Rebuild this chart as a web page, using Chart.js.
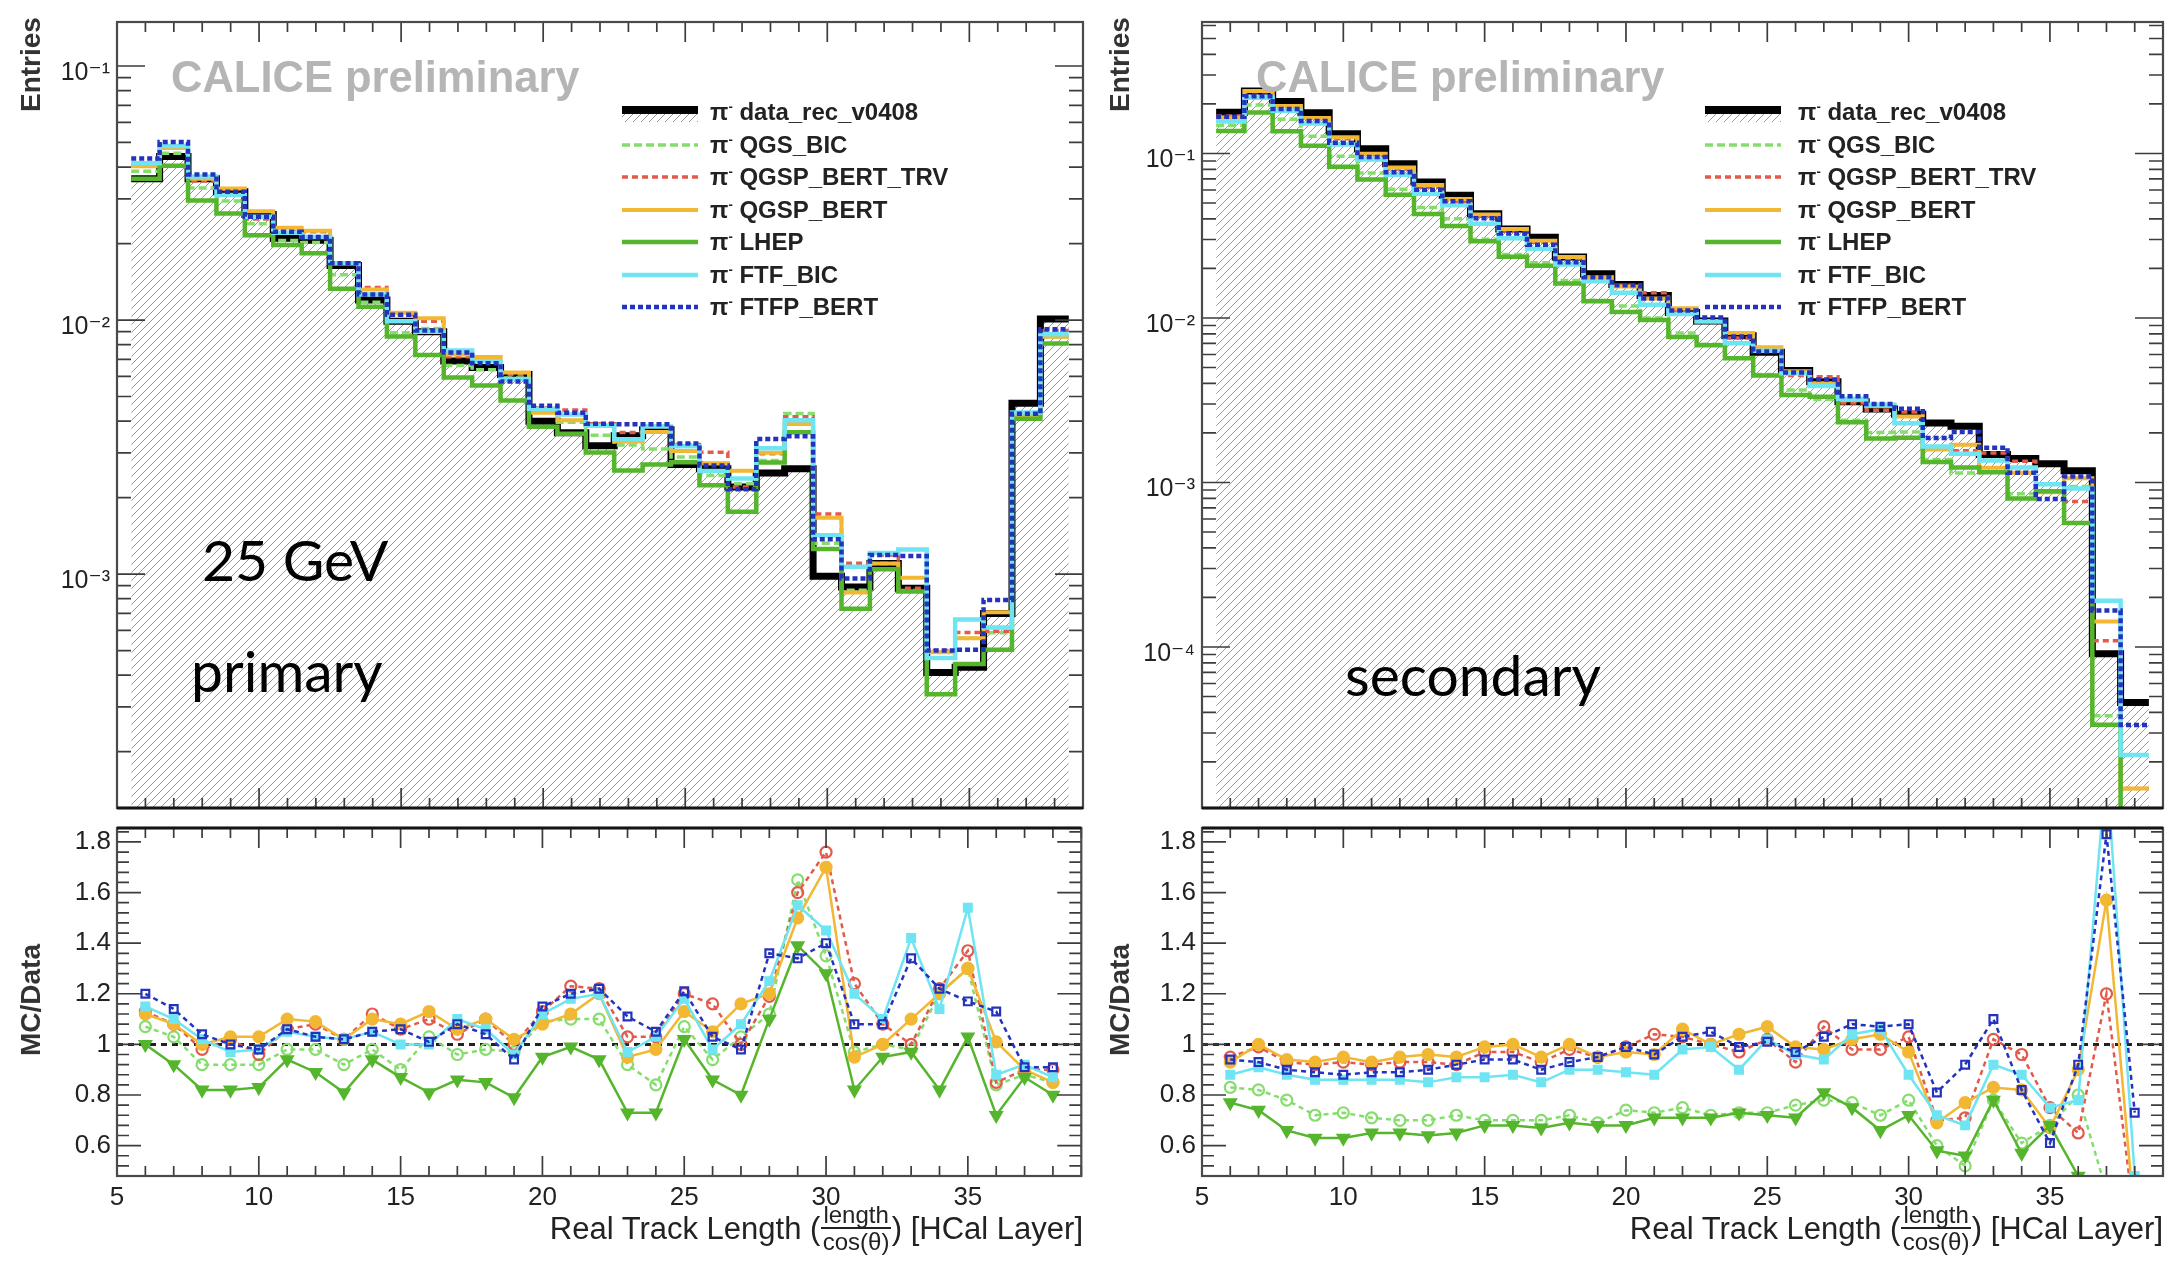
<!DOCTYPE html>
<html>
<head>
<meta charset="utf-8">
<script src="https://cdn.jsdelivr.net/npm/chart.js@4.4.1/dist/chart.umd.min.js"></script>
<style>
html, body { margin: 0; padding: 0; background: #fff; }
body { width: 2173px; height: 1263px; position: relative; overflow: hidden;
       font-family: 'Liberation Sans', Arial, sans-serif; color: #222; }
canvas { position: absolute; }
.txt { position: absolute; white-space: nowrap; line-height: 1; }
.calice { font-weight: bold; font-size: 43.5px; color: #b5b5b5; }
.note { font-family: Lato, 'Open Sans', sans-serif; font-size: 57px; color: #000; }
.ytitle { font-weight: bold; font-size: 28px; color: #333; transform: rotate(-90deg); transform-origin: 0 0; }
.xt { position: absolute; display: flex; align-items: center; font-size: 31px; color: #222; white-space: nowrap; line-height: 1; }
.frac { display: inline-flex; flex-direction: column; align-items: center; font-size: 24px; line-height: 1.05; margin: 0 1px; }
.frac span:first-child { border-bottom: 2px solid #222; padding: 0 2px; }
.leg { position: absolute; font-size: 24px; font-weight: bold; color: #222; white-space: nowrap; line-height: 1; }
.leg sup { font-size: 13px; vertical-align: 9px; }
.legsample { position: absolute; }
</style>
</head>
<body>
<canvas id="topL" width="1090" height="830" style="left:0;top:0"></canvas>
<canvas id="ratL" width="1090" height="463" style="left:0;top:800px"></canvas>
<canvas id="topR" width="1083" height="830" style="left:1090px;top:0"></canvas>
<canvas id="ratR" width="1083" height="463" style="left:1090px;top:800px"></canvas>

<div class="txt calice" style="left:171px;top:56px">CALICE preliminary</div>
<div class="txt calice" style="left:1256px;top:56px">CALICE preliminary</div>

<div class="txt note" style="left:202px;top:531px">25 GeV</div>
<div class="txt note" style="left:191px;top:642px">primary</div>
<div class="txt note" style="left:1345px;top:646px">secondary</div>

<div class="txt ytitle" style="left:17px;top:112px;width:94px;text-align:right">Entries</div>
<div class="txt ytitle" style="left:1106px;top:112px;width:94px;text-align:right">Entries</div>
<div class="txt ytitle" style="left:17px;top:1174px;width:348px;text-align:center">MC/Data</div>
<div class="txt ytitle" style="left:1106px;top:1174px;width:348px;text-align:center">MC/Data</div>

<div class="xt" style="right:1090px;top:1202px">Real Track Length (<span class="frac"><span>length</span><span>cos(θ)</span></span>) [HCal Layer]</div>
<div class="xt" style="right:10px;top:1202px">Real Track Length (<span class="frac"><span>length</span><span>cos(θ)</span></span>) [HCal Layer]</div>

<div id="legends"></div>

<script>
// HCal layer bins (bin centres)
const layers = [6, 7, 8, 9, 10, 11, 12, 13, 14, 15, 16, 17, 18, 19, 20, 21, 22,
                23, 24, 25, 26, 27, 28, 29, 30, 31, 32, 33, 34, 35, 36, 37, 38];

const seriesNames = ['data_rec_v0408', 'QGS_BIC', 'QGSP_BERT_TRV', 'QGSP_BERT', 'LHEP', 'FTF_BIC', 'FTFP_BERT'];

// ---- primary (left) ----
const dataPrimary = [0.036, 0.044, 0.036, 0.032, 0.026, 0.021, 0.0206, 0.0164, 0.012, 0.0099, 0.009,
                     0.0069, 0.0065, 0.0061, 0.0040, 0.0036, 0.0032, 0.0035, 0.0037, 0.0027, 0.0026,
                     0.0022, 0.0025, 0.0026, 0.00098, 0.00089, 0.0011, 0.00088, 0.00041, 0.00043,
                     0.0007, 0.0047, 0.0101];

// MC/Data ratios, primary
const ratioPrimaryQGS_BIC   = [1.07, 1.03, 0.92, 0.92, 0.92, 0.98, 0.98, 0.92, 0.98, 0.90, 1.03, 0.96, 0.98, 0.97, 1.09, 1.10, 1.10,
                               0.92, 0.84, 1.07, 0.94, 1.03, 1.12, 1.65, 1.35, 0.97, 1.00, 0.98, 1.20, 1.30, 0.84, 0.88, 0.85];
const ratioPrimaryTRV       = [1.13, 1.08, 0.98, 1.02, 0.96, 1.06, 1.08, 1.02, 1.12, 1.06, 1.10, 1.04, 1.10, 1.00, 1.13, 1.23, 1.22,
                               1.03, 1.03, 1.20, 1.16, 1.00, 1.19, 1.60, 1.76, 1.24, 1.08, 1.00, 1.22, 1.37, 0.85, 0.90, 0.90];
const ratioPrimaryQGSP_BERT = [1.12, 1.08, 1.00, 1.03, 1.03, 1.10, 1.09, 1.02, 1.10, 1.08, 1.13, 1.06, 1.10, 1.02, 1.08, 1.12, 1.20,
                               0.95, 0.98, 1.13, 1.05, 1.16, 1.20, 1.50, 1.70, 0.95, 1.00, 1.10, 1.20, 1.30, 1.01, 0.90, 0.85];
const ratioPrimaryLHEP      = [1.00, 0.92, 0.82, 0.82, 0.83, 0.94, 0.89, 0.81, 0.94, 0.87, 0.81, 0.86, 0.85, 0.79, 0.95, 0.99, 0.94,
                               0.73, 0.73, 1.02, 0.86, 0.80, 1.10, 1.39, 1.28, 0.82, 0.95, 0.97, 0.82, 1.03, 0.72, 0.87, 0.80];
const ratioPrimaryFTF_BIC   = [1.15, 1.10, 1.02, 0.97, 0.98, 1.05, 1.03, 1.02, 1.05, 1.00, 1.00, 1.10, 1.06, 0.96, 1.12, 1.18, 1.20,
                               0.97, 1.03, 1.18, 0.98, 1.08, 1.25, 1.55, 1.45, 1.20, 1.10, 1.42, 1.14, 1.54, 0.88, 0.92, 0.87];
const ratioPrimaryFTFP_BERT = [1.20, 1.14, 1.04, 1.00, 0.98, 1.06, 1.03, 1.02, 1.05, 1.06, 1.01, 1.08, 1.04, 0.94, 1.15, 1.20, 1.22,
                               1.11, 1.05, 1.21, 1.03, 0.98, 1.36, 1.34, 1.40, 1.08, 1.08, 1.34, 1.22, 1.17, 1.13, 0.91, 0.91];

// ---- secondary (right) ----
const dataSecondary = [0.178, 0.24, 0.207, 0.177, 0.132, 0.107, 0.0865, 0.067, 0.0557, 0.043, 0.0347,
                       0.031, 0.0235, 0.0186, 0.016, 0.0137, 0.0108, 0.0096, 0.0078, 0.0062, 0.0048,
                       0.0041, 0.0031, 0.0028, 0.0026, 0.0023, 0.0022, 0.00148, 0.0014, 0.0013,
                       0.00118, 0.000091, 0.000046];

const ratioSecondaryQGS_BIC   = [0.83, 0.82, 0.78, 0.72, 0.73, 0.71, 0.70, 0.70, 0.72, 0.70, 0.70, 0.70, 0.72, 0.69, 0.74, 0.73, 0.75,
                                 0.72, 0.73, 0.73, 0.76, 0.78, 0.77, 0.72, 0.78, 0.60, 0.52, 0.78, 0.61, 0.68, 0.80, 0.42, 0.10];
const ratioSecondaryTRV       = [0.95, 0.99, 0.93, 0.92, 0.93, 0.92, 0.93, 0.93, 0.92, 0.97, 0.97, 0.93, 0.98, 0.95, 0.99, 1.04, 1.03,
                                 1.00, 0.97, 1.02, 0.93, 1.07, 0.98, 0.98, 1.03, 0.70, 0.71, 1.02, 0.96, 0.75, 0.65, 1.20, 0.30];
const ratioSecondaryQGSP_BERT = [0.93, 1.00, 0.94, 0.93, 0.95, 0.93, 0.95, 0.96, 0.95, 0.99, 1.00, 0.95, 1.00, 0.95, 0.97, 0.96, 1.06,
                                 1.00, 1.04, 1.07, 0.99, 0.98, 1.02, 1.04, 0.97, 0.69, 0.77, 0.83, 0.82, 0.67, 0.90, 1.57, 0.30];
const ratioSecondaryLHEP      = [0.77, 0.74, 0.66, 0.63, 0.63, 0.65, 0.65, 0.64, 0.65, 0.68, 0.68, 0.67, 0.69, 0.68, 0.68, 0.71, 0.71,
                                 0.71, 0.73, 0.72, 0.71, 0.81, 0.75, 0.66, 0.72, 0.58, 0.56, 0.78, 0.57, 0.68, 0.48, 0.37, 0.10];
const ratioSecondaryFTF_BIC   = [0.88, 0.91, 0.88, 0.86, 0.86, 0.86, 0.86, 0.85, 0.87, 0.87, 0.88, 0.85, 0.90, 0.90, 0.89, 0.88, 0.98,
                                 0.99, 0.90, 1.02, 0.96, 0.94, 1.04, 1.06, 0.88, 0.72, 0.68, 0.92, 0.88, 0.75, 0.78, 2.10, 0.48];
const ratioSecondaryFTFP_BERT = [0.94, 0.93, 0.90, 0.89, 0.88, 0.89, 0.89, 0.90, 0.92, 0.94, 0.94, 0.90, 0.93, 0.95, 0.99, 0.96, 1.03,
                                 1.05, 0.99, 1.01, 0.97, 1.03, 1.08, 1.07, 1.08, 0.81, 0.92, 1.10, 0.82, 0.61, 0.92, 1.83, 0.73];

// axis ranges
const xRange = [5, 39];
const xLabelTicks = [5, 10, 15, 20, 25, 30, 35];
const yRangePrimary = [1.2e-4, 0.149];
const yRangeSecondary = [1.05e-5, 0.63];
const decadesPrimary = [1e-3, 1e-2, 1e-1];
const decadesSecondary = [1e-4, 1e-3, 1e-2, 1e-1];
const ratioRange = [0.48, 1.855];
const ratioLabelTicks = [0.6, 0.8, 1, 1.2, 1.4, 1.6, 1.8];

// styles for MC models (same order as seriesNames[1..])
const mcStyles = [
  { color: '#86dd6e', hw: 3.5, hdash: [8, 4], rdash: [5, 4], point: 'circle',   open: true,  rot: 0 },
  { color: '#e25a4c', hw: 3.5, hdash: [6, 4], rdash: [5, 4], point: 'circle',   open: true,  rot: 0 },
  { color: '#f2b733', hw: 4,   hdash: [],     rdash: [],     point: 'circle',   open: false, rot: 0 },
  { color: '#55b52c', hw: 4.5, hdash: [],     rdash: [],     point: 'triangle', open: false, rot: 180 },
  { color: '#6fe4f2', hw: 4.5, hdash: [],     rdash: [],     point: 'rect',     open: false, rot: 0 },
  { color: '#2433bd', hw: 4.5, hdash: [5, 3], rdash: [5, 4], point: 'rect',     open: true,  rot: 0 }
];

Chart.defaults.font.family = "'Liberation Sans', 'DejaVu Sans', Arial, sans-serif";
Chart.defaults.color = '#222';

function makeHatch() {
  const c = document.createElement('canvas');
  c.width = 8; c.height = 8;
  const g = c.getContext('2d');
  g.strokeStyle = '#989898';
  g.lineWidth = 1;
  g.beginPath();
  g.moveTo(-1, 9); g.lineTo(9, -1);
  g.moveTo(-1, 1); g.lineTo(1, -1);
  g.moveTo(7, 9); g.lineTo(9, 7);
  g.stroke();
  return g.createPattern(c, 'repeat');
}
const hatch = makeHatch();

// histogram outline: one point per lower bin edge plus the last upper edge
function stepPoints(vals) {
  const pts = layers.map((l, i) => ({ x: l - 0.5, y: vals[i] }));
  pts.push({ x: layers[layers.length - 1] + 0.5, y: vals[vals.length - 1] });
  return pts;
}

function logTicks(min, max) {
  const out = [];
  for (let e = -6; e <= 0; e++) {
    for (let k = 1; k <= 9; k++) {
      const v = k * Math.pow(10, e);
      if (v >= min && v <= max) out.push([v, k === 1]);
    }
  }
  return out;
}
function linTicks(min, max) {
  const out = [];
  for (let i = Math.ceil(min / 0.04); i * 0.04 <= max; i++) {
    const v = +(i * 0.04).toFixed(2);
    out.push([v, Math.abs(v * 5 - Math.round(v * 5)) < 1e-6]);
  }
  return out;
}

// frame with ROOT style inward ticks
const frameTicks = {
  id: 'frameTicks',
  afterDatasetsDraw(chart, args, o) {
    const { ctx, chartArea: a } = chart;
    const x = chart.scales.x, y = chart.scales.y;
    ctx.save();
    ctx.strokeStyle = '#3c3c3c';
    ctx.lineWidth = 1.7;
    ctx.beginPath();
    for (let v = xRange[0]; v <= xRange[1]; v++) {
      const px = x.getPixelForValue(v);
      const len = v % 5 === 0 ? o.xMajor : o.xMinor;
      ctx.moveTo(px, a.bottom); ctx.lineTo(px, a.bottom - len);
      ctx.moveTo(px, a.top); ctx.lineTo(px, a.top + len);
    }
    o.yTicks.forEach(([v, major]) => {
      const py = y.getPixelForValue(v);
      const len = major ? o.yMajor : o.yMinor;
      ctx.moveTo(a.left, py); ctx.lineTo(a.left + len, py);
      ctx.moveTo(a.right, py); ctx.lineTo(a.right - len, py);
    });
    ctx.stroke();
    ctx.strokeStyle = '#4a4a4a';
    ctx.lineWidth = 2.2;
    ctx.strokeRect(a.left, a.top, a.right - a.left, a.bottom - a.top);
    ctx.strokeStyle = '#151515';
    ctx.lineWidth = 3;
    ctx.beginPath();
    const ey = o.thickEdge === 'top' ? a.top : a.bottom;
    ctx.moveTo(a.left, ey); ctx.lineTo(a.right, ey);
    ctx.stroke();
    ctx.restore();
  }
};

const sup = { 1: '¹', 2: '²', 3: '³', 4: '⁴', 5: '⁵' };

function topChart(id, dataVals, ratios, yRange, decades, yWidth, padRight) {
  const datasets = [{
    label: seriesNames[0], data: stepPoints(dataVals), stepped: true,
    borderColor: '#000', borderWidth: 7, fill: 'start', backgroundColor: hatch,
    pointRadius: 0, order: 10
  }];
  mcStyles.forEach((s, k) => {
    datasets.push({
      label: seriesNames[k + 1],
      data: stepPoints(dataVals.map((v, i) => v * ratios[k][i])),
      stepped: true, borderColor: s.color, borderWidth: s.hw, borderDash: s.hdash,
      fill: false, pointRadius: 0, order: 6 - k
    });
  });
  return new Chart(document.getElementById(id), {
    type: 'line',
    data: { datasets },
    options: {
      responsive: false, animation: false, devicePixelRatio: 1,
      layout: { padding: { top: 22, right: padRight, bottom: 2, left: 0 } },
      scales: {
        x: { type: 'linear', min: xRange[0], max: xRange[1], display: false },
        y: {
          type: 'logarithmic', min: yRange[0], max: yRange[1],
          afterFit: s => { s.width = yWidth; },
          afterBuildTicks: s => { s.ticks = decades.map(v => ({ value: v })); },
          grid: { display: false, drawTicks: false }, border: { display: false },
          ticks: {
            autoSkip: false, padding: 7, labelOffset: 7, color: '#222', font: { size: 25 },
            callback: v => '10⁻' + sup[Math.round(-Math.log10(v))]
          }
        }
      },
      plugins: {
        legend: { display: false }, tooltip: { enabled: false },
        frameTicks: { xMajor: 20, xMinor: 10, yMajor: 28, yMinor: 14,
                      yTicks: logTicks(yRange[0], yRange[1]), thickEdge: 'bottom' }
      }
    },
    plugins: [frameTicks]
  });
}

function ratioChart(id, ratios, yWidth, padRight) {
  const datasets = [{
    label: 'unity', data: [{ x: xRange[0], y: 1 }, { x: xRange[1], y: 1 }],
    borderColor: '#222', borderWidth: 3, borderDash: [6, 5], pointRadius: 0, order: 20
  }];
  mcStyles.forEach((s, k) => {
    datasets.push({
      label: seriesNames[k + 1],
      data: layers.map((l, i) => ({ x: l, y: ratios[k][i] })),
      borderColor: s.color, borderWidth: 2.5, borderDash: s.rdash,
      pointStyle: s.point, pointRotation: s.rot, pointRadius: s.point === 'triangle' ? 6.5 : 5.5,
      pointBackgroundColor: s.open ? 'rgba(255,255,255,0)' : s.color,
      pointBorderColor: s.color, pointBorderWidth: 2.2, order: 6 - k
    });
  });
  return new Chart(document.getElementById(id), {
    type: 'line',
    data: { datasets },
    options: {
      responsive: false, animation: false, devicePixelRatio: 1,
      layout: { padding: { top: 28, right: padRight, bottom: 0, left: 0 } },
      scales: {
        x: {
          type: 'linear', min: xRange[0], max: xRange[1],
          afterFit: s => { s.height = 87; },
          afterBuildTicks: s => { s.ticks = xLabelTicks.map(v => ({ value: v })); },
          grid: { display: false, drawTicks: false }, border: { display: false },
          ticks: { autoSkip: false, maxRotation: 0, padding: 6, color: '#222', font: { size: 26 } }
        },
        y: {
          type: 'linear', min: ratioRange[0], max: ratioRange[1],
          afterFit: s => { s.width = yWidth; },
          afterBuildTicks: s => { s.ticks = ratioLabelTicks.map(v => ({ value: v })); },
          grid: { display: false, drawTicks: false }, border: { display: false },
          ticks: { autoSkip: false, padding: 6, color: '#222', font: { size: 26 },
                   callback: v => String(+v.toFixed(1)) }
        }
      },
      plugins: {
        legend: { display: false }, tooltip: { enabled: false },
        frameTicks: { xMajor: 20, xMinor: 10, yMajor: 24, yMinor: 12,
                      yTicks: linTicks(ratioRange[0], ratioRange[1]), thickEdge: 'top' }
      }
    },
    plugins: [frameTicks]
  });
}

topChart('topL', dataPrimary,
  [ratioPrimaryQGS_BIC, ratioPrimaryTRV, ratioPrimaryQGSP_BERT, ratioPrimaryLHEP, ratioPrimaryFTF_BIC, ratioPrimaryFTFP_BERT],
  yRangePrimary, decadesPrimary, 117, 7);
ratioChart('ratL',
  [ratioPrimaryQGS_BIC, ratioPrimaryTRV, ratioPrimaryQGSP_BERT, ratioPrimaryLHEP, ratioPrimaryFTF_BIC, ratioPrimaryFTFP_BERT],
  117, 7);
topChart('topR', dataSecondary,
  [ratioSecondaryQGS_BIC, ratioSecondaryTRV, ratioSecondaryQGSP_BERT, ratioSecondaryLHEP, ratioSecondaryFTF_BIC, ratioSecondaryFTFP_BERT],
  yRangeSecondary, decadesSecondary, 112, 10);
ratioChart('ratR',
  [ratioSecondaryQGS_BIC, ratioSecondaryTRV, ratioSecondaryQGSP_BERT, ratioSecondaryLHEP, ratioSecondaryFTF_BIC, ratioSecondaryFTFP_BERT],
  112, 10);

// legends
function buildLegend(sampleX, textX) {
  const host = document.getElementById('legends');
  const rowY0 = 112, rowStep = 32.5;
  seriesNames.forEach((name, i) => {
    const cy = rowY0 + i * rowStep;
    let svg;
    if (i === 0) {
      svg = '<svg width="78" height="22"><defs><pattern id="h' + sampleX + '" width="8" height="8" patternUnits="userSpaceOnUse">' +
            '<path d="M-1,9 L9,-1 M-1,1 L1,-1 M7,9 L9,7" stroke="#989898" stroke-width="1"/></pattern></defs>' +
            '<rect x="0" y="12" width="76" height="9" fill="url(#h' + sampleX + ')"/>' +
            '<rect x="0" y="5" width="76" height="8" fill="#000"/></svg>';
    } else {
      const s = mcStyles[i - 1];
      svg = '<svg width="78" height="22"><line x1="0" y1="11" x2="76" y2="11" stroke="' + s.color +
            '" stroke-width="' + s.hw + '" stroke-dasharray="' + (s.hdash.length ? s.hdash.join(',') : 'none') + '"/></svg>';
    }
    const smp = document.createElement('div');
    smp.className = 'legsample';
    smp.style.left = sampleX + 'px';
    smp.style.top = (cy - 11) + 'px';
    smp.innerHTML = svg;
    host.appendChild(smp);
    const lab = document.createElement('div');
    lab.className = 'leg';
    lab.style.left = textX + 'px';
    lab.style.top = (cy + 8.6 - 20.3) + 'px';
    lab.innerHTML = 'π<sup>-</sup> ' + name;
    host.appendChild(lab);
  });
}
buildLegend(622, 710);
buildLegend(1705, 1798);
</script>
</body>
</html>
